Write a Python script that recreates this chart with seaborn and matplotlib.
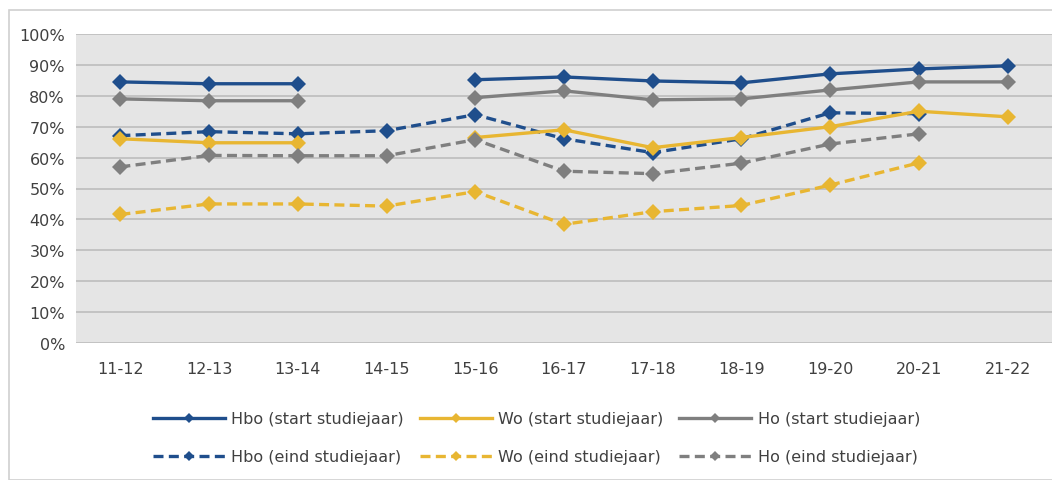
import numpy as np
import pandas as pd
import seaborn as sns
import matplotlib.pyplot as plt
from matplotlib.lines import Line2D
from matplotlib.patches import Rectangle
from matplotlib.ticker import PercentFormatter

jaren = ["11-12", "12-13", "13-14", "14-15", "15-16", "16-17",
         "17-18", "18-19", "19-20", "20-21", "21-22"]

nan = np.nan
hbo_start = [84.5, 83.9, 83.9, nan, 85.2, 86.1, 84.8, 84.2, 87.1, 88.7, 89.7]
wo_start = [66.1, 64.8, 64.8, nan, 66.5, 69.0, 63.2, 66.5, 70.0, 75.0, 73.2]
ho_start = [79.0, 78.4, 78.4, nan, 79.4, 81.6, 78.7, 79.0, 81.9, 84.5, 84.5]
hbo_eind = [67.1, 68.4, 67.7, 68.7, 73.9, 66.1, 61.6, 66.1, 74.5, 74.2, nan]
wo_eind = [41.6, 45.0, 45.0, 44.3, 49.0, 38.4, 42.5, 44.5, 51.1, 58.3, nan]
ho_eind = [57.0, 60.7, 60.6, 60.6, 65.8, 55.6, 54.8, 58.2, 64.4, 67.7, nan]

series = {
    ("Hbo", "start studiejaar"): hbo_start,
    ("Wo", "start studiejaar"): wo_start,
    ("Ho", "start studiejaar"): ho_start,
    ("Hbo", "eind studiejaar"): hbo_eind,
    ("Wo", "eind studiejaar"): wo_eind,
    ("Ho", "eind studiejaar"): ho_eind,
}
kleuren = {"Hbo": "#1f4e8c", "Wo": "#e8b632", "Ho": "#7f7f7f"}

# long format, with a segment id so gaps (NaN) break the line
rows = []
for (niveau, moment), vals in series.items():
    seg = 0
    for i, v in enumerate(vals):
        if np.isnan(v):
            seg += 1
            continue
        rows.append({"x": i, "pct": v, "niveau": niveau, "moment": moment, "seg": seg})
df = pd.DataFrame(rows)

fig = plt.figure(figsize=(10.52, 4.81), dpi=100)
ax = fig.add_axes([76 / 1052, 1 - 344 / 481, 1 - 76 / 1052, (344 - 35) / 481])

sns.lineplot(data=df, x="x", y="pct", hue="niveau", style="moment",
             units="seg", estimator=None, palette=kleuren,
             dashes={"start studiejaar": "", "eind studiejaar": (3, 1.6)},
             markers={"start studiejaar": "D", "eind studiejaar": "D"},
             markersize=8, markeredgewidth=0, linewidth=2.4,
             legend=False, ax=ax)

ax.set_facecolor("#e5e5e5")
ax.set_xlim(-0.5, len(jaren) - 0.5)
ax.set_ylim(0, 100)
ax.set_yticks(range(0, 101, 10))
ax.yaxis.set_major_formatter(PercentFormatter(decimals=0))
ax.set_xticks(range(len(jaren)), labels=jaren)
ax.grid(axis="y", color="#c0c0c0", linewidth=1.3)
ax.set_axisbelow(True)
for s in ax.spines.values():
    s.set_visible(False)
ax.tick_params(length=0, labelsize=11.5, labelcolor="#404040")
ax.tick_params(axis="x", pad=13)
ax.tick_params(axis="y", pad=8)
ax.set_xlabel("")
ax.set_ylabel("")

# legend: first row start, second row eind
handles, labels = [], []
for niveau in ["Hbo", "Wo", "Ho"]:
    for moment, ls in [("start studiejaar", "-"), ("eind studiejaar", (0, (3, 1.6)))]:
        handles.append(Line2D([], [], color=kleuren[niveau], linestyle=ls, linewidth=2.4,
                              marker="D", markersize=5, markeredgewidth=0))
        labels.append(f"{niveau} ({moment})")
fig.legend(handles, labels, ncol=3, loc="center", bbox_to_anchor=(0.51, 0.088),
           frameon=False, fontsize=11.5, handlelength=4.5, columnspacing=1.0,
           labelspacing=1.45, handletextpad=0.4, labelcolor="#404040")

fig.patches.append(Rectangle((9 / 1052, 0), 1.1, 1 - 11 / 481, transform=fig.transFigure,
                             fill=False, edgecolor="#d0d0d0", linewidth=1.2))

fig.savefig("out.png", dpi=100)
